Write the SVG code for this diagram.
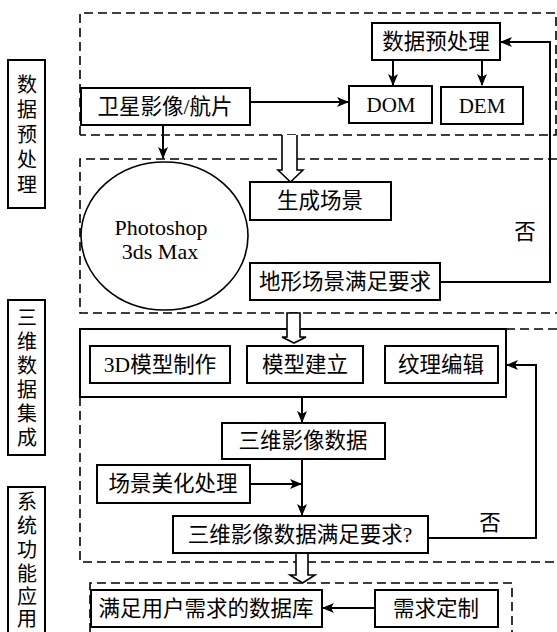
<svg xmlns="http://www.w3.org/2000/svg" width="557" height="632" viewBox="0 0 557 632">
<defs>
<marker id="ah" markerWidth="12" markerHeight="10" refX="11" refY="5" orient="auto" markerUnits="userSpaceOnUse">
<path d="M0,0 L12,5 L0,10 L3,5 Z" fill="#000"/>
</marker>
<style>
.box{fill:#fff;stroke:#000;stroke-width:2}
.dash{fill:none;stroke:#000;stroke-width:1.6;stroke-dasharray:9 5}
.ln{fill:none;stroke:#000;stroke-width:2}
.hol{fill:#fff;stroke:#000;stroke-width:1.6}
text{font-family:"Liberation Serif","Noto Sans CJK SC",serif;font-size:21.5px;fill:#000;text-anchor:middle;dominant-baseline:central}
.vt{font-size:20px}
.lat{font-size:21px}
.big{font-size:22px}
</style>
</defs>
<rect width="557" height="632" fill="#fff"/>
<g id="regions">
<path class="dash" d="M80,135 V13 H556 V135 H80"/>
<path class="dash" d="M557,159 H80 V313 H557"/>
<path class="dash" d="M506,329 H557"/>
<path class="dash" d="M80,397 V562 H557"/>
<path class="dash" d="M90,632 V583 H512 V632"/>
</g>
<g id="labels">
<g id="label1"><rect class="box" x="8" y="60" width="37" height="148"/>
<text class="vt" x="27" y="85">数</text><text class="vt" x="27" y="110">据</text><text class="vt" x="27" y="135">预</text><text class="vt" x="27" y="160">处</text><text class="vt" x="27" y="185">理</text></g>
<g id="label2"><rect class="box" x="8" y="300" width="37" height="155"/>
<text class="vt" x="27" y="318">三</text><text class="vt" x="27" y="342">维</text><text class="vt" x="27" y="366">数</text><text class="vt" x="27" y="390">据</text><text class="vt" x="27" y="414">集</text><text class="vt" x="27" y="438">成</text></g>
<g id="label3"><rect class="box" x="8" y="487" width="37" height="160"/>
<text class="vt" x="27" y="502">系</text><text class="vt" x="27" y="526">统</text><text class="vt" x="27" y="550">功</text><text class="vt" x="27" y="574">能</text><text class="vt" x="27" y="597">应</text><text class="vt" x="27" y="619">用</text></g>
</g>
<g id="n-container"><rect class="box" x="80" y="329" width="426" height="68"/></g>
<g id="connectors">
<path class="ln" d="M163,125 V158" marker-end="url(#ah)"/>
<path class="ln" d="M250,102 H348" marker-end="url(#ah)"/>
<path class="ln" d="M393,60 V85" marker-end="url(#ah)"/>
<path class="ln" d="M482,60 V85" marker-end="url(#ah)"/>
<path class="ln" d="M440,282 H550 V42 H501" marker-end="url(#ah)"/>
<path class="hol" d="M282,135 V170 H278 L290.5,182 L303,170 H297 V135"/>
<path class="hol" d="M287,313 H300 V337 H306 L294,343 L282,337 H287 Z"/>
<path class="ln" d="M302,397 V422" marker-end="url(#ah)"/>
<path class="ln" d="M302,459 V515" marker-end="url(#ah)"/>
<path class="ln" d="M250,484 H301" marker-end="url(#ah)"/>
<path class="ln" d="M428,538 H536 V365 H507" marker-end="url(#ah)"/>
<path class="hol" d="M296,553 V575 H290 L302.5,583 L315,575 H308 V553"/>
<path class="ln" d="M375,608 H323" marker-end="url(#ah)"/>
</g>
<g id="n-sat"><rect class="box" x="81" y="88" width="169" height="37"/><text x="165" y="107">卫星影像/航片</text></g>
<g id="n-pre"><rect class="box" x="372" y="23" width="128" height="37"/><text x="436" y="42">数据预处理</text></g>
<g id="n-dom"><rect class="box" x="349" y="86" width="83" height="37"/><text class="lat" x="391" y="105">DOM</text></g>
<g id="n-dem"><rect class="box" x="441" y="87" width="82" height="37"/><text class="lat" x="482" y="106">DEM</text></g>
<g id="n-ps"><ellipse cx="164.5" cy="236" rx="83.5" ry="74" fill="#fff" stroke="#000" stroke-width="1.6"/><text class="big" x="161" y="227">Photoshop</text><text class="big" x="160" y="251">3ds Max</text></g>
<g id="n-gen"><rect class="box" x="250" y="182" width="141" height="38"/><text x="320" y="201">生成场景</text></g>
<g id="n-terrain"><rect class="box" x="250" y="263" width="190" height="37"/><text x="345" y="282">地形场景满足要求</text></g>
<text x="525" y="232">否</text>
<g id="n-3d"><rect class="box" x="90" y="346" width="140" height="37"/><text x="160" y="365">3D模型制作</text></g>
<g id="n-model"><rect class="box" x="247" y="346" width="116" height="37"/><text x="305" y="365">模型建立</text></g>
<g id="n-tex"><rect class="box" x="385" y="346" width="113" height="37"/><text x="441" y="365">纹理编辑</text></g>
<g id="n-img"><rect class="box" x="222" y="423" width="163" height="36"/><text x="303" y="441">三维影像数据</text></g>
<g id="n-beauty"><rect class="box" x="97" y="465" width="153" height="38"/><text x="173" y="484">场景美化处理</text></g>
<g id="n-check"><rect class="box" x="173" y="516" width="255" height="37"/><text x="300" y="535">三维影像数据满足要求?</text></g>
<text x="490" y="523">否</text>
<g id="n-db"><rect class="box" x="91" y="590" width="231" height="37"/><text x="206" y="609">满足用户需求的数据库</text></g>
<g id="n-req"><rect class="box" x="375" y="590" width="123" height="37"/><text x="436" y="609">需求定制</text></g>
</svg>
